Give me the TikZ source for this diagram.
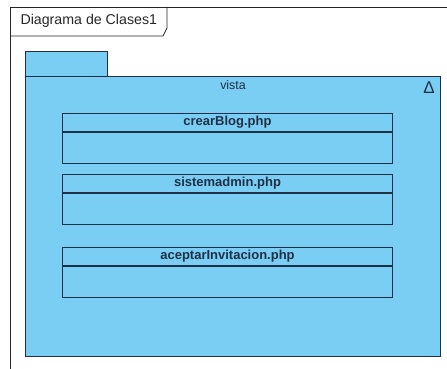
\documentclass[tikz,border=0pt]{standalone}
\usepackage{fontspec}
\setmainfont{Liberation Sans}
\usetikzlibrary{positioning}
\definecolor{pkgblue}{RGB}{122,206,243}
\definecolor{umlline}{RGB}{32,48,72}

\tikzset{
  pkg/.style={draw=umlline, fill=pkgblue, line width=1pt, inner sep=0pt},
  clshead/.style={draw=umlline, line width=1pt, minimum width=330pt, minimum height=18pt,
    inner sep=0pt, font=\fontsize{13}{14}\selectfont\bfseries, text=umlline},
  clsbody/.style={draw=umlline, line width=1pt, minimum width=330pt, minimum height=31pt, inner sep=0pt},
}

\begin{document}
\begin{tikzpicture}[x=1pt, y=-1pt]
  \useasboundingbox (0,0) rectangle (447,369);

  % Frame
  \draw[line width=0.8pt, black!85] (10,369) -- (10,7) -- (447,7);
  \coordinate (tl) at (10,36);
  \coordinate (tr) at (167,7);
  \draw[line width=0.8pt, black!85] (tl) -- (163,36) -- (167,28) -- (tr);
  \node[anchor=west, font=\fontsize{14.2}{16}\selectfont, text=black!85] (title) at (17,21) {Diagrama de Clases1};

  % Package
  \node[pkg, minimum width=82pt, minimum height=25pt, anchor=north west] (tab) at (25,51) {};
  \node[pkg, minimum width=415pt, minimum height=280pt, anchor=north west] (vista) at (25,76) {};
  \node[below=4pt of vista.north, inner sep=0pt, font=\fontsize{12.4}{14}\selectfont, text=umlline] (vname) {vista};
  \node[anchor=north east, inner sep=0pt, font=\fontsize{17}{18}\selectfont, text=umlline] (delta) at ([xshift=-6pt, yshift=-6pt]vista.north east) {Δ};

  % Classes
  \node[clshead, anchor=north west] (crear) at (62,113) {crearBlog.php};
  \node[clsbody, below=0pt of crear] (crearb) {};

  \node[clshead, anchor=north west] (admin) at (62,174) {sistemadmin.php};
  \node[clsbody, below=0pt of admin] (adminb) {};

  \node[clshead, anchor=north west] (invit) at (62,247) {aceptarInvitacion.php};
  \node[clsbody, below=0pt of invit] (invitb) {};
\end{tikzpicture}
\end{document}
